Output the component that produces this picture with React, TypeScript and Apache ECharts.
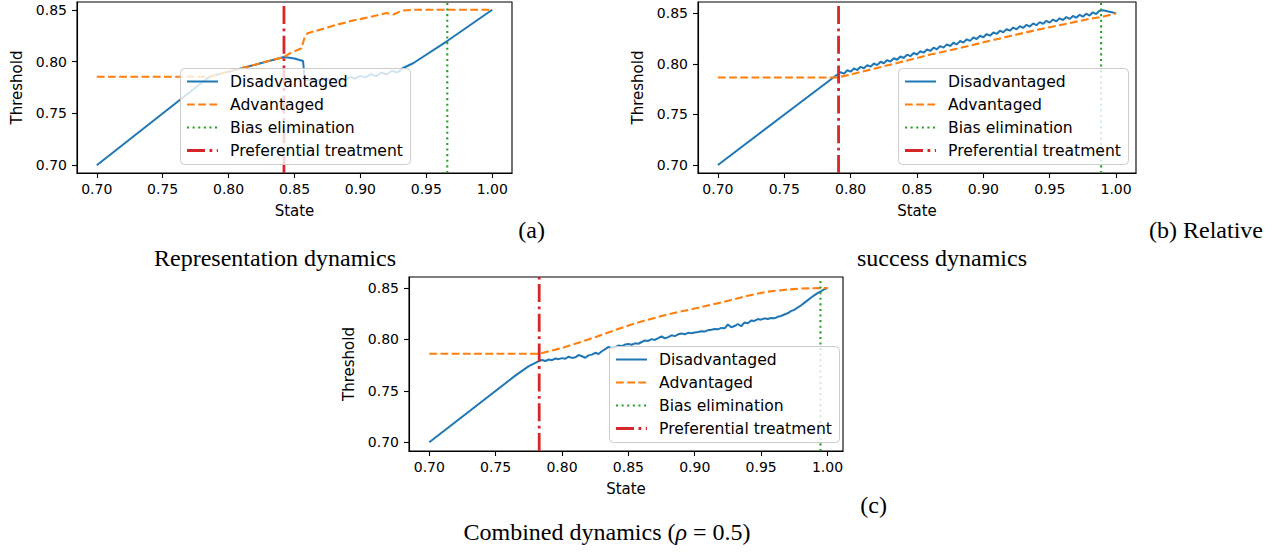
import React, { useEffect, useRef } from "react";
import * as echarts from "echarts";

const BLUE = "#1f77b4";
const ORANGE = "#ff7f0e";
const GREEN = "#2ca02c";
const RED = "#d62728";
const FONT = "DejaVu Sans";
const SERIF = "Liberation Serif";

const xTicks = [0.7, 0.75, 0.8, 0.85, 0.9, 0.95, 1.0];
const yTicks = [0.7, 0.75, 0.8, 0.85];
const seriesNames = ["Disadvantaged", "Advantaged", "Bias elimination", "Preferential treatment"];

// (a) Representation dynamics
const aDisState = [0.70, 0.7854, 0.80, 0.82, 0.842, 0.850, 0.8565, 0.8578, 0.860, 0.875, 0.889, 0.8925, 0.896, 0.900, 0.904, 0.908, 0.912, 0.916, 0.920, 0.924, 0.928, 0.932, 0.940, 0.9664, 1.00];
const aDis = [0.70, 0.7854, 0.7903, 0.7970, 0.8045, 0.8030, 0.8005, 0.7822, 0.7822, 0.7826, 0.7830, 0.7850, 0.7835, 0.7862, 0.7848, 0.7878, 0.7860, 0.7895, 0.7876, 0.7912, 0.7893, 0.7936, 0.7984, 0.8203, 0.850];
const aAdvState = [0.70, 0.7854, 0.80, 0.82, 0.842, 0.8465, 0.8553, 0.8578, 0.860, 0.869, 0.8818, 0.8944, 0.907, 0.9197, 0.925, 0.932, 0.94, 1.00];
const aAdv = [0.7854, 0.7854, 0.7903, 0.7970, 0.8045, 0.8080, 0.8129, 0.8240, 0.8274, 0.8306, 0.8355, 0.8396, 0.8429, 0.8468, 0.8455, 0.8493, 0.8500, 0.8500];
const aBias = 0.9659;
const aPref = 0.842;

// (b) Relative success dynamics
const bDisState = [0.70, 0.79, 0.7925, 0.795, 0.7975, 0.80, 0.8025, 0.805, 0.8075, 0.81, 0.8125, 0.815, 0.8175, 0.82, 0.8225, 0.825, 0.8275, 0.83, 0.8325, 0.835, 0.8375, 0.84, 0.8425, 0.845, 0.8475, 0.85, 0.8525, 0.855, 0.8575, 0.86, 0.8625, 0.865, 0.8675, 0.87, 0.8725, 0.875, 0.8775, 0.88, 0.8825, 0.885, 0.8875, 0.89, 0.8925, 0.895, 0.8975, 0.90, 0.9025, 0.905, 0.9075, 0.91, 0.9125, 0.915, 0.9175, 0.92, 0.9225, 0.925, 0.9275, 0.93, 0.9325, 0.935, 0.9375, 0.94, 0.9425, 0.945, 0.9475, 0.95, 0.9525, 0.955, 0.9575, 0.96, 0.9625, 0.965, 0.9675, 0.97, 0.9725, 0.975, 0.9775, 0.98, 0.9825, 0.985, 0.9875, 0.99, 1.00];
const bDis = [0.70, 0.7895, 0.7917, 0.7903, 0.7937, 0.7923, 0.7955, 0.7939, 0.7971, 0.7956, 0.7988, 0.7972, 0.8004, 0.7988, 0.8021, 0.8006, 0.8038, 0.8023, 0.8056, 0.8041, 0.8073, 0.8058, 0.8091, 0.8076, 0.8108, 0.8093, 0.8126, 0.8111, 0.8143, 0.8128, 0.8160, 0.8144, 0.8176, 0.8161, 0.8193, 0.8177, 0.8209, 0.8193, 0.8226, 0.8211, 0.8243, 0.8228, 0.8261, 0.8246, 0.8278, 0.8263, 0.8295, 0.8279, 0.8311, 0.8296, 0.8328, 0.8312, 0.8344, 0.8328, 0.8359, 0.8342, 0.8373, 0.8356, 0.8386, 0.8369, 0.8400, 0.8383, 0.8413, 0.8396, 0.8426, 0.8408, 0.8438, 0.8421, 0.8451, 0.8433, 0.8463, 0.8444, 0.8474, 0.8456, 0.8485, 0.8467, 0.8496, 0.8478, 0.8510, 0.8493, 0.8525, 0.8530, 0.8500];
const bAdvState = [0.70, 0.79, 0.80, 0.82, 0.84, 0.86, 0.88, 0.89, 0.90, 0.92, 0.94, 0.96, 0.98, 0.99, 1.00];
const bAdv = [0.7866, 0.7866, 0.7895, 0.7960, 0.8025, 0.8092, 0.8150, 0.8180, 0.8213, 0.8275, 0.8335, 0.8390, 0.8445, 0.8467, 0.8500];
const bBias = 0.9887;
const bPref = 0.7909;

// (c) Combined dynamics
const cDisState = [0.70, 0.765, 0.775, 0.783, 0.785, 0.7875, 0.79, 0.7925, 0.795, 0.7975, 0.80, 0.8025, 0.805, 0.8075, 0.81, 0.8125, 0.815, 0.8175, 0.82, 0.8225, 0.825, 0.8275, 0.83, 0.8325, 0.835, 0.8375, 0.84, 0.8425, 0.845, 0.8475, 0.85, 0.8525, 0.855, 0.8575, 0.86, 0.8625, 0.865, 0.8675, 0.87, 0.8725, 0.875, 0.8775, 0.88, 0.8825, 0.885, 0.8875, 0.89, 0.8925, 0.895, 0.8975, 0.90, 0.9025, 0.905, 0.9075, 0.91, 0.9125, 0.915, 0.9175, 0.92, 0.9225, 0.925, 0.9275, 0.93, 0.9325, 0.935, 0.9375, 0.94, 0.9425, 0.945, 0.9475, 0.95, 0.9525, 0.955, 0.9575, 0.96, 0.9625, 0.965, 0.9675, 0.97, 0.9725, 0.975, 0.9775, 0.98, 0.9825, 0.985, 0.9875, 0.99, 0.9925, 0.995, 0.9975, 1.00];
const cDis = [0.70, 0.765, 0.774, 0.7792, 0.7800, 0.7790, 0.7805, 0.7798, 0.7815, 0.7808, 0.7818, 0.7812, 0.7832, 0.7820, 0.7826, 0.7848, 0.7836, 0.7822, 0.7845, 0.7852, 0.7870, 0.7858, 0.7885, 0.7905, 0.7928, 0.7915, 0.7925, 0.7940, 0.7935, 0.7950, 0.7955, 0.7948, 0.7962, 0.7958, 0.7975, 0.7990, 0.7985, 0.8003, 0.7995, 0.8012, 0.8030, 0.8010, 0.8022, 0.8040, 0.8032, 0.8050, 0.8058, 0.8050, 0.8064, 0.8060, 0.8068, 0.8072, 0.8080, 0.8076, 0.8090, 0.8095, 0.8102, 0.8098, 0.8112, 0.8108, 0.8145, 0.8118, 0.8130, 0.8150, 0.8128, 0.8165, 0.8158, 0.8185, 0.8180, 0.8198, 0.8192, 0.8205, 0.8198, 0.8208, 0.8205, 0.8220, 0.8228, 0.8242, 0.8254, 0.8275, 0.8288, 0.8310, 0.8330, 0.8355, 0.8380, 0.8405, 0.8428, 0.8450, 0.8468, 0.8488, 0.8500];
const cAdvState = [0.70, 0.783, 0.79, 0.80, 0.82, 0.84, 0.85, 0.86, 0.88, 0.90, 0.92, 0.94, 0.955, 0.97, 0.98, 1.00];
const cAdv = [0.786, 0.786, 0.7885, 0.7916, 0.8000, 0.8090, 0.8135, 0.8175, 0.8245, 0.8300, 0.8360, 0.8425, 0.8465, 0.8485, 0.8495, 0.8500];
const cBias = 0.9947;
const cPref = 0.7828;

const panels = [
  {
    grid: { left: 77, top: 2, width: 435, height: 171 },
    xRange: [0.685, 1.015], yRange: [0.6925, 0.8575],
    legend: { left: 180, top: 68 },
    dis: [aDisState, aDis], adv: [aAdvState, aAdv], bias: aBias, pref: aPref,
  },
  {
    grid: { left: 698, top: 2, width: 438, height: 171 },
    xRange: [0.685, 1.015], yRange: [0.6921, 0.8612],
    legend: { left: 898, top: 68 },
    dis: [bDisState, bDis], adv: [bAdvState, bAdv], bias: bBias, pref: bPref,
  },
  {
    grid: { left: 409, top: 277, width: 434, height: 174 },
    xRange: [0.6847, 1.0117], yRange: [0.6915, 0.8607],
    legend: { left: 609, top: 346 },
    dis: [cDisState, cDis], adv: [cAdvState, cAdv], bias: cBias, pref: cPref,
  },
];

const lineStyles = [
  { stroke: BLUE, lineWidth: 2, lineDash: null as any },
  { stroke: ORANGE, lineWidth: 2.1, lineDash: [7.8, 3.4] },
  { stroke: GREEN, lineWidth: 2.1, lineDash: [2.1, 3.5] },
  { stroke: RED, lineWidth: 2.8, lineDash: [18, 4.5, 2.8, 4.5] },
];

const zip = (xs: number[], ys: number[]) => xs.map((x, i) => [x, ys[i]]);

function legendElements(left: number, top: number) {
  const els: any[] = [
    {
      type: "rect",
      z: 100,
      silent: true,
      shape: { x: left + 0.5, y: top + 0.5, width: 230, height: 96, r: 4 },
      style: { fill: "rgba(255,255,255,0.8)", stroke: "#cccccc", lineWidth: 1 },
    },
  ];
  seriesNames.forEach((name, i) => {
    const cy = top + 13.5 + 23 * i;
    const ls = lineStyles[i];
    els.push({
      type: "line",
      z: 101,
      silent: true,
      shape: { x1: left + 7, y1: cy, x2: left + 38, y2: cy },
      style: { stroke: ls.stroke, lineWidth: ls.lineWidth, lineDash: ls.lineDash || undefined },
    });
    els.push({
      type: "text",
      z: 101,
      silent: true,
      x: left + 50,
      y: cy,
      style: { text: name, fontSize: 15.6, fontFamily: FONT, fill: "#000", verticalAlign: "middle", align: "left" },
    });
  });
  return els;
}

export default function App() {
  const ref = useRef<HTMLDivElement>(null);
  useEffect(() => {
    if (!ref.current) return;
    const chart = echarts.init(ref.current, null, { renderer: "svg" });
    const series: any[] = [];
    panels.forEach((p, i) => {
      const base = { type: "line", xAxisIndex: i, yAxisIndex: i, symbol: "none", showSymbol: false, silent: true, z: 2 };
      series.push({ ...base, name: seriesNames[0], data: zip(p.dis[0], p.dis[1]), lineStyle: { color: BLUE, width: 2 }, itemStyle: { color: BLUE } });
      series.push({ ...base, name: seriesNames[1], data: zip(p.adv[0], p.adv[1]), lineStyle: { color: ORANGE, width: 2.1, type: [7.8, 3.4] }, itemStyle: { color: ORANGE } });
      series.push({ ...base, name: seriesNames[2], data: [[p.bias, p.yRange[0]], [p.bias, p.yRange[1]]], lineStyle: { color: GREEN, width: 2.1, type: [2.1, 3.5] }, itemStyle: { color: GREEN } });
      series.push({ ...base, name: seriesNames[3], data: [[p.pref, p.yRange[0]], [p.pref, p.yRange[1]]], lineStyle: { color: RED, width: 2.8, type: [18, 4.5, 2.8, 4.5] }, itemStyle: { color: RED } });
    });
    const legendEls = panels.flatMap((p) => legendElements(p.legend.left, p.legend.top));
    const option: any = {
      animation: false,
      textStyle: { fontFamily: FONT },
      grid: panels.map((p) => ({ ...p.grid, show: true, borderColor: "#000", borderWidth: 1.1, backgroundColor: "transparent", containLabel: false })),
      xAxis: panels.map((p, i) => ({
        type: "value", gridIndex: i, min: p.xRange[0], max: p.xRange[1],
        name: "State", nameLocation: "middle", nameGap: 30,
        nameTextStyle: { fontSize: 15, color: "#000", fontFamily: FONT },
        axisLine: { show: true, onZero: false, lineStyle: { color: "#000", width: 1.1 } },
        axisTick: { show: true, length: 5, customValues: xTicks, lineStyle: { color: "#000", width: 1.1 } },
        axisLabel: { customValues: xTicks, formatter: (v: number) => v.toFixed(2), fontSize: 14, color: "#000", fontFamily: FONT, margin: 9 },
        splitLine: { show: false },
      })),
      yAxis: panels.map((p, i) => ({
        type: "value", gridIndex: i, min: p.yRange[0], max: p.yRange[1],
        name: "Threshold", nameLocation: "middle", nameGap: 53,
        nameTextStyle: { fontSize: 15, color: "#000", fontFamily: FONT },
        axisLine: { show: true, onZero: false, lineStyle: { color: "#000", width: 1.1 } },
        axisTick: { show: true, length: 5, customValues: yTicks, lineStyle: { color: "#000", width: 1.1 } },
        axisLabel: { customValues: yTicks, formatter: (v: number) => v.toFixed(2), fontSize: 14, color: "#000", fontFamily: FONT, margin: 10 },
        splitLine: { show: false },
      })),
      graphic: {
        elements: [
          ...legendEls,
          { type: "text", x: 545, y: 230, style: { text: "(a)", align: "right", verticalAlign: "middle", fontSize: 24, fontFamily: SERIF, fill: "#000" } },
          { type: "text", x: 275, y: 258, style: { text: "Representation dynamics", align: "center", verticalAlign: "middle", fontSize: 24, fontFamily: SERIF, fill: "#000" } },
          { type: "text", x: 1263, y: 230, style: { text: "(b) Relative", align: "right", verticalAlign: "middle", fontSize: 24, fontFamily: SERIF, fill: "#000" } },
          { type: "text", x: 942, y: 258, style: { text: "success dynamics", align: "center", verticalAlign: "middle", fontSize: 24, fontFamily: SERIF, fill: "#000" } },
          { type: "text", x: 887, y: 505, style: { text: "(c)", align: "right", verticalAlign: "middle", fontSize: 24, fontFamily: SERIF, fill: "#000" } },
          { type: "text", x: 607, y: 532, style: { text: "Combined dynamics ({i|ρ} = 0.5)", align: "center", verticalAlign: "middle", fontSize: 24, fontFamily: SERIF, fill: "#000", rich: { i: { fontStyle: "italic", fontSize: 24, fontFamily: SERIF, fill: "#000" } } } },
        ],
      },
      series,
    };
    chart.setOption(option);
    return () => chart.dispose();
  }, []);
  return <div ref={ref} style={{ position: "absolute", left: 0, top: 0, width: 1288, height: 552, background: "#fff" }} />;
}
